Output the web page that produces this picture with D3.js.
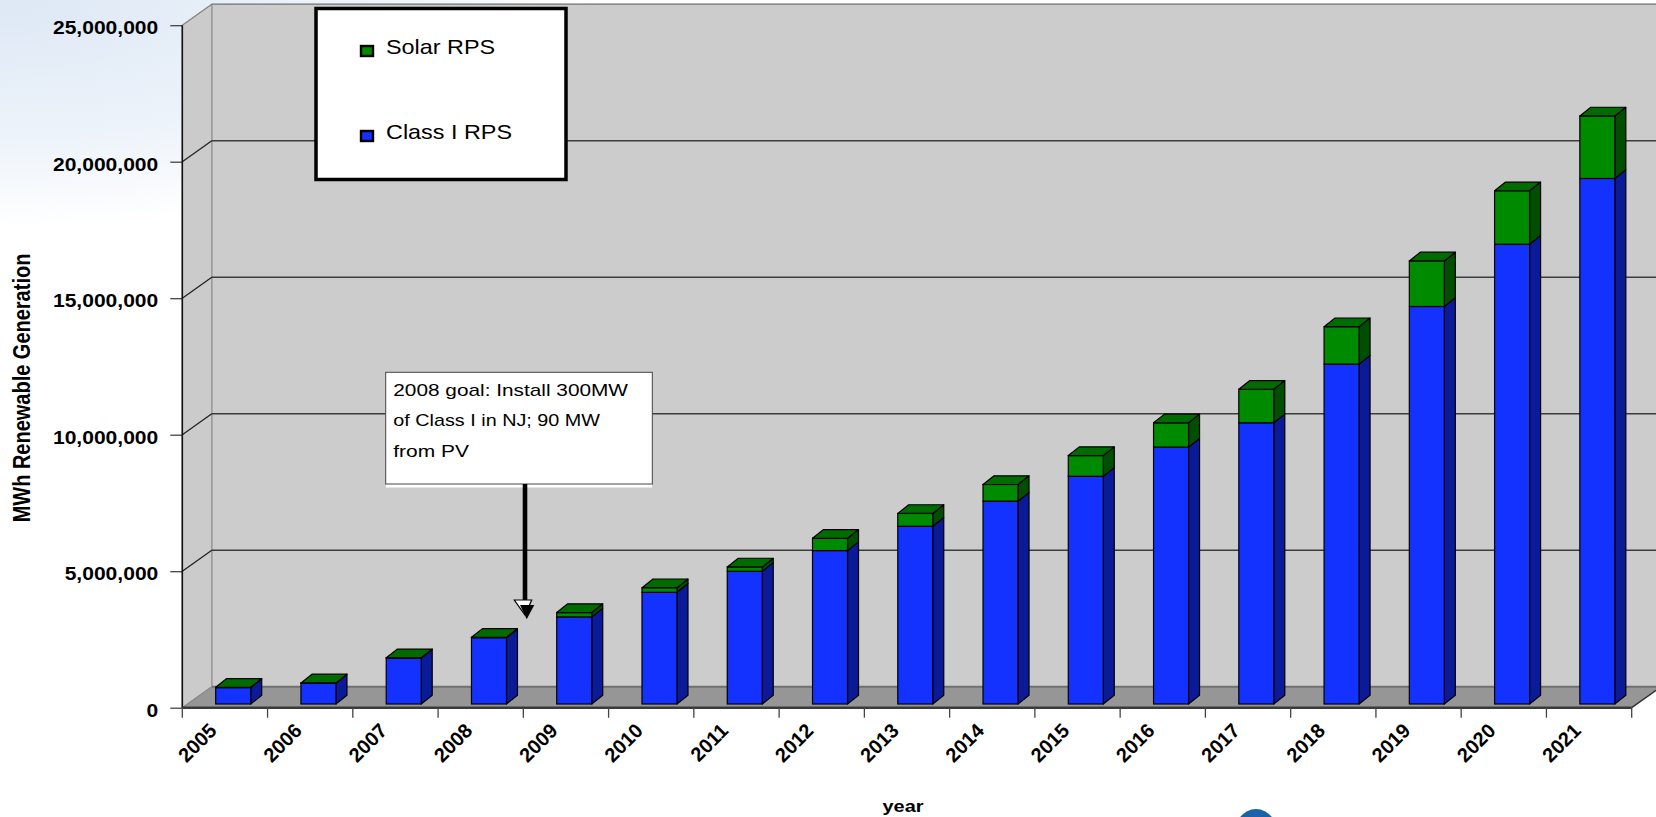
<!DOCTYPE html>
<html><head><meta charset="utf-8">
<script src="https://cdn.jsdelivr.net/npm/d3@7"></script>
<style>html,body{margin:0;padding:0;background:#fff;overflow:hidden}</style>
</head><body><svg id="c" width="1656" height="817"></svg>
<script>
// ---- data ----
const years = [2005,2006,2007,2008,2009,2010,2011,2012,2013,2014,2015,2016,2017,2018,2019,2020,2021];
const classI = [600000,760000,1680000,2430000,3190000,4090000,4860000,5620000,6510000,7430000,8340000,9410000,10300000,12450000,14560000,16840000,19250000];
const solar  = [12000,12000,12000,12000,160000,170000,160000,450000,470000,610000,760000,890000,1230000,1370000,1670000,1960000,2290000];
const yTickValues = [0,5000000,10000000,15000000,20000000,25000000];
const seriesKeys = ["classI","solar"];
const legendLabels = ["Solar RPS","Class I RPS"];
const noteLines = ["2008 goal: Install 300MW","of Class I in NJ; 90 MW","from PV"];
const yTitle = "MWh Renewable Generation";
const xTitle = "year";

// ---- layout ----
const SX = 1.17;                 // horizontal text stretch
const X0 = 182.3, X1 = 1631.7, Y0 = 707.7, YT = 25.2;
const WDX = 29.5, WDY = -21;     // wall depth
const BOFF = 33.4, BW = 35, BFY = -3.7, BDX = 11, BDY = -8.7;
const colors = {
  classI: {front:"#1432ff", side:"#0b1a98", top:"#0e22c8"},
  solar:  {front:"#008a00", side:"#004e00", top:"#006c00"}
};

const svg = d3.select("#c");
const x = d3.scaleBand().domain(years).range([X0, X1]).padding(0);
const y = d3.scaleLinear().domain([0, 25000000]).range([Y0, YT]);

// background tint
const defs = svg.append("defs");
const g1 = defs.append("radialGradient").attr("id","bg").attr("cx","0").attr("cy","0").attr("r","1")
  .attr("gradientUnits","objectBoundingBox");
g1.append("stop").attr("offset","0").attr("stop-color","#dde8f5");
g1.append("stop").attr("offset","0.6").attr("stop-color","#edf3fa");
g1.append("stop").attr("offset","1").attr("stop-color","#ffffff");
svg.append("rect").attr("x",0).attr("y",0).attr("width",600).attr("height",230).attr("fill","url(#bg)");

// back wall
const wallTop = y(25000000) + WDY, wallBot = y(0) + WDY;
svg.append("rect").attr("x", X0 + WDX).attr("y", wallTop)
  .attr("width", 1700 - X0).attr("height", wallBot - wallTop)
  .attr("fill","#cccccc").attr("stroke","#8a8a8a").attr("stroke-width",1);
// side wall
svg.append("polygon")
  .attr("points", [[X0,y(0)],[X0,y(25000000)],[X0+WDX,wallTop],[X0+WDX,wallBot]].map(p=>p.join(",")).join(" "))
  .attr("fill","#cbcbcb").attr("stroke","#8a8a8a").attr("stroke-width",1);

// gridlines (back wall + side wall diagonals)
const gridVals = yTickValues.filter(v => v > 0);
svg.selectAll(".grid").data(gridVals).join("line").attr("class","grid")
  .attr("x1", X0 + WDX).attr("x2", 1700)
  .attr("y1", d => y(d) + WDY).attr("y2", d => y(d) + WDY)
  .attr("stroke", d => d === 25000000 ? "#8a8a8a" : "#3c3c3c").attr("stroke-width", 1.4);
svg.selectAll(".diag").data(gridVals).join("line").attr("class","diag")
  .attr("x1", X0).attr("y1", d => y(d))
  .attr("x2", X0 + WDX).attr("y2", d => y(d) + WDY)
  .attr("stroke", d => d === 25000000 ? "#8a8a8a" : "#222").attr("stroke-width", 1.3);

// floor
svg.append("polygon")
  .attr("points", [[X0,Y0],[X1,Y0],[X1+WDX,Y0+WDY],[X0+WDX,Y0+WDY]].map(p=>p.join(",")).join(" "))
  .attr("fill","#969696");
svg.append("line").attr("x1",X0+WDX).attr("x2",1700).attr("y1",Y0+WDY).attr("y2",Y0+WDY)
  .attr("stroke","#707070").attr("stroke-width",2);
svg.append("line").attr("x1",X0).attr("y1",Y0).attr("x2",X0+WDX).attr("y2",Y0+WDY)
  .attr("stroke","#8a8a8a").attr("stroke-width",1.3);
svg.append("line").attr("x1",X1).attr("y1",Y0).attr("x2",X1+WDX).attr("y2",Y0+WDY)
  .attr("stroke","#333").attr("stroke-width",1.5);

// y axis
const yAxis = d3.axisLeft(y).tickValues(yTickValues).tickFormat(d3.format(",")).tickSize(12).tickSizeOuter(0);
const ya = svg.append("g").attr("transform", `translate(${X0},0)`).call(yAxis);
ya.select(".domain").remove();
ya.selectAll(".tick line").attr("stroke","#444").attr("stroke-width",1.3);
ya.selectAll(".tick text")
  .attr("x", null).attr("dy", "0.47em")
  .attr("transform", `translate(-24,0) scale(${SX},1)`)
  .attr("font-family","Liberation Sans, Arial, sans-serif").attr("font-weight","bold")
  .attr("font-size",18).attr("fill","#000").attr("text-anchor","end");
svg.append("line").attr("x1",X0).attr("x2",X0).attr("y1",y(0)).attr("y2",y(25000000))
  .attr("stroke","#111").attr("stroke-width",1.6);

// x axis line + boundary ticks
svg.append("line").attr("x1",X0).attr("x2",X1).attr("y1",Y0).attr("y2",Y0)
  .attr("stroke","#3a3a3a").attr("stroke-width",2.6);
const bounds = years.map(d => x(d)).concat([x(years[years.length-1]) + x.bandwidth()]);
svg.selectAll(".xt").data(bounds).join("line").attr("class","xt")
  .attr("x1", d => d).attr("x2", d => d).attr("y1", Y0).attr("y2", Y0 + 10)
  .attr("stroke","#444").attr("stroke-width",1.3);
svg.selectAll(".xl").data(years).join("text").attr("class","xl")
  .attr("transform", d => `translate(${x(d) + x.bandwidth()/2 - 7},732) rotate(-45)`)
  .attr("text-anchor","end")
  .attr("font-family","Liberation Sans, Arial, sans-serif").attr("font-weight","bold")
  .attr("font-size",20).attr("fill","#000")
  .text(d => d);

// bars
const data = years.map((yr,i) => ({year: yr, classI: classI[i], solar: solar[i]}));
const stacked = d3.stack().keys(seriesKeys)(data);
const barG = svg.append("g");
const pts = a => a.map(p => p.join(",")).join(" ");
stacked.forEach(series => {
  const c = colors[series.key];
  const sg = barG.append("g");
  sg.selectAll(".side").data(series).join("polygon").attr("class","side")
    .attr("points", d => {
      const xr = x(d.data.year) + BOFF + BW, yb = y(d[0]) + BFY, yt = y(d[1]) + BFY;
      return pts([[xr,yb],[xr+BDX,yb+BDY],[xr+BDX,yt+BDY],[xr,yt]]);
    })
    .attr("fill", c.side).attr("stroke","#000").attr("stroke-width",1.2).attr("stroke-linejoin","round");
  sg.selectAll(".front").data(series).join("rect").attr("class","front")
    .attr("x", d => x(d.data.year) + BOFF).attr("width", BW)
    .attr("y", d => y(d[1]) + BFY).attr("height", d => y(d[0]) - y(d[1]))
    .attr("fill", c.front).attr("stroke","#000").attr("stroke-width",1.2);
});
const topSeries = stacked[stacked.length-1];
barG.selectAll(".topf").data(topSeries).join("polygon").attr("class","topf")
  .attr("points", d => {
    const xl = x(d.data.year) + BOFF, xr = xl + BW, yt = y(d[1]) + BFY;
    return pts([[xl,yt],[xl+BDX,yt+BDY],[xr+BDX,yt+BDY],[xr,yt]]);
  })
  .attr("fill", colors[topSeries.key].top).attr("stroke","#000").attr("stroke-width",1.2).attr("stroke-linejoin","round");

// legend
const lg = svg.append("g");
lg.append("rect").attr("x",316).attr("y",8.5).attr("width",250).attr("height",171)
  .attr("fill","#fff").attr("stroke","#000").attr("stroke-width",3.5);
const legendKeys = ["solar","classI"];
const legendY = [51, 136];
legendLabels.forEach((lab,i) => {
  lg.append("rect").attr("x",361).attr("y",legendY[i]-5).attr("width",12).attr("height",10)
    .attr("fill", colors[legendKeys[i]].front).attr("stroke","#000").attr("stroke-width",2.4);
  lg.append("text").attr("transform",`translate(386,${legendY[i]+2.5}) scale(${SX},1)`)
    .attr("font-family","Liberation Sans, Arial, sans-serif").attr("font-size",20).attr("fill","#000")
    .text(lab);
});

// annotation box + arrow
const ag = svg.append("g");
ag.append("rect").attr("x",386).attr("y",484).attr("width",266).attr("height",3.5).attr("fill","#fff");
ag.append("rect").attr("x",385.7).attr("y",372.3).attr("width",266.6).attr("height",111.7)
  .attr("fill","#fff").attr("stroke","#444").attr("stroke-width",1);
const noteW = [234.7, 206.7, 75.7];
const noteY = [396, 426, 457];
noteLines.forEach((t,i) => {
  ag.append("text").attr("x",393.3).attr("y",noteY[i])
    .attr("textLength", noteW[i]).attr("lengthAdjust","spacingAndGlyphs")
    .attr("font-family","Liberation Sans, Arial, sans-serif").attr("font-size",17).attr("fill","#000")
    .text(t);
});
ag.append("line").attr("x1",525).attr("x2",525).attr("y1",484).attr("y2",606)
  .attr("stroke","#000").attr("stroke-width",4.6);
ag.append("polygon").attr("points", pts([[514.3,600],[531.7,600],[525,615]]))
  .attr("fill","#fff").attr("stroke","#000").attr("stroke-width",1.2);
ag.append("polygon").attr("points", pts([[520,605],[534.3,605],[526.7,619.3]]))
  .attr("fill","#000");

// axis titles
svg.append("text").attr("transform",`translate(30,388) scale(${SX},1) rotate(-90)`)
  .attr("text-anchor","middle").attr("font-family","Liberation Sans, Arial, sans-serif")
  .attr("font-weight","bold").attr("font-size",20).attr("fill","#000").text(yTitle);
svg.append("text").attr("transform",`translate(903,812) scale(${SX},1)`)
  .attr("text-anchor","middle").attr("font-family","Liberation Sans, Arial, sans-serif")
  .attr("font-weight","bold").attr("font-size",17).attr("fill","#000").text(xTitle);

// partial logo at bottom
svg.append("ellipse").attr("cx",1256).attr("cy",838).attr("rx",23).attr("ry",29).attr("fill","#1b62aa");
</script>
</body></html>
